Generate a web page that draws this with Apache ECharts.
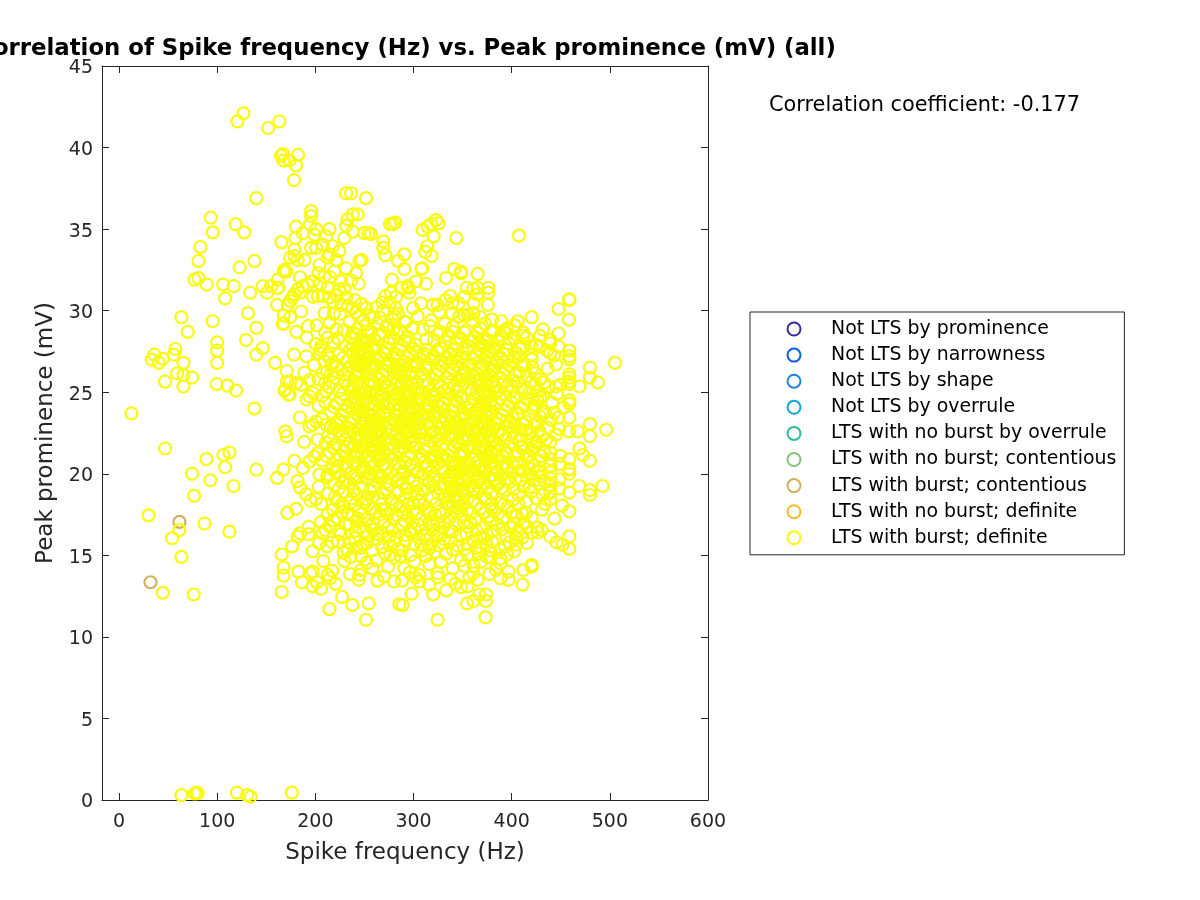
<!DOCTYPE html>
<html><head><meta charset="utf-8">
<style>html,body{margin:0;padding:0;background:#fff}#c{width:1200px;height:900px}</style>
<script src="https://cdn.jsdelivr.net/npm/echarts@6/dist/echarts.min.js"></script>
</head><body><div id="c"></div>
<script>
const xTicks=[0,100,200,300,400,500,600];
const seriesNames=["Not LTS by prominence","Not LTS by narrowness","Not LTS by shape","Not LTS by overrule","LTS with no burst by overrule","LTS with no burst; contentious","LTS with burst; contentious","LTS with no burst; definite","LTS with burst; definite"];
const seriesColors=["#3e2a9b","#0a5fe0","#1e84e0","#06a9ca","#2eb89e","#87c077","#d0b25a","#fcbb2e","#f9fb0e"];
const burstContentious=[[32,13.35],[61.5,17.05]];
const outlineTop=[[120.6,41.6],[126.7,42.1],[152,41.2],[163.3,41.6],[165,39.5],[167,39.6],[167.4,39.2],[173.5,39.2],[182.3,39.55],[180.3,38.9],[178.3,38],[139.9,36.9],[93.4,35.7],[95.4,34.8],[118.8,35.3],[127.4,34.8],[82.9,33.9],[80.9,33.05],[122.9,32.65],[137.9,33.05],[165.4,34.2],[76.8,31.9],[80.9,32],[89.3,31.6],[106,31.6],[116.8,31.5],[108,30.75],[133.5,31.1],[146.3,31.5],[150.8,31.1],[154.9,31.5],[161.6,31.4],[161.6,31.9],[167.7,32.4],[170,32.4],[63.5,29.6],[95.4,29.35],[70,28.7],[131.4,29.85],[139.9,28.95],[129.4,28.2],[99.9,28.05],[99.9,27.55],[99.9,26.8],[99.5,25.5],[110.4,25.4],[119.2,25.1],[57.4,27.65],[55.7,27.3],[36,27.3],[33.3,27],[40.5,26.8],[44.5,27.05],[65.6,26.8],[59.1,26.15],[65.6,26.05],[74.4,25.9],[46.9,25.65],[65.6,25.35],[12.6,23.7],[137.9,24],[46.9,21.55],[89,20.9],[106.3,21.15],[112.4,21.3],[108,20.4],[139.9,20.25],[74.4,20],[93,19.6],[116.5,19.25],[76.5,18.65],[167.4,20.25],[161,19.75],[139.9,27.3],[146.3,27.7],[159,26.8],[166.7,29.2],[170.8,26.3],[171.2,25.65],[168.4,25.1],[172.5,24.85],[169.4,22.6],[170.8,22.3],[87,16.95],[112.4,16.45],[61.5,16.55],[54,16.05],[63.5,14.9],[76,12.6],[44.5,12.7],[30,17.45]];
const nearZero=[[63.5,0.3],[77,0.4],[79,0.45],[80,0.42],[120,0.45],[130.5,0.3],[134,0.2],[176,0.45]];
const outlineBottom=[[184.4,19.15],[190.5,18.75],[195.2,18.35],[205.8,18.15],[171.5,17.6],[180.3,17.85],[205.8,17.05],[212.5,17.5],[193.2,16.75],[192.9,16.3],[210.2,16.55],[184.4,16.35],[182,16.15],[176.3,15.55],[165.7,15.05],[211.9,15.55],[223.1,15.85],[167.7,14.25],[167.7,13.75],[165.7,12.75],[182.7,14],[186.4,13.35],[197.3,14],[194.9,13.9],[201.7,13.35],[197.3,13.1],[208.1,14.65],[217,14.05],[212.5,13.8],[215,13.6],[229.5,14.65],[228.8,15.15],[235.3,13.85],[227.2,12.45],[237.7,11.95],[214.3,11.7],[251.6,11.05],[244.1,13.5],[244.8,13.8],[246.5,14.1],[254.3,12.05],[235.6,15.75],[241.4,15.45],[246.5,15.45],[246.5,14.95],[324.5,11.05],[373.4,11.2],[320.1,12.6],[333.4,12.85],[298.1,12.65],[288.9,11.95],[285.5,12],[354.5,12.05],[360.9,12.2],[373.8,12.2],[367,12.6],[373.8,12.6],[348.4,13.05],[355.1,13.1],[337.5,13.55],[356.8,13.65],[365.3,13.5],[360.9,13.9],[324.5,13.65],[324.5,13.9],[305.9,13.4],[305.9,13.8],[301.8,13.65],[288.3,13.45],[411.1,13.2],[396.8,13.5],[388.4,13.6],[396.8,14],[411.8,14.1],[420.3,14.3],[420.3,14.4],[377.2,13.85],[384,14.1],[388.4,14.5],[388.4,14.8],[388.4,15.35],[368.7,14.6],[348.4,14.7],[316,14.45],[300.8,14.6],[290.6,14.2],[333,15.1],[316,15.45],[338.2,15.85],[305.9,16.05],[458.7,15.4],[451.8,15.65],[445.7,15.8],[439.3,16.15],[458.7,16.15],[426.4,16.4],[420.3,16.4],[404.4,16.05],[458.7,17.7],[420.3,17.3],[414.6,17.6],[458.7,18.85],[439.3,18.45],[439.3,18.85],[468.8,19.25],[479.7,19],[479.7,18.7],[492.6,19.25],[448.5,19.1],[448.5,19.65],[458.7,20.3]];
const outlineRight=[[407.4,34.6],[343.6,34.45],[322.9,35.55],[325.3,35.35],[317.8,35.3],[314.4,35.15],[309.3,34.95],[320.5,34.55],[290.6,33.45],[314,33.95],[312,33.6],[318.4,33.35],[308.7,32.6],[308,32.55],[290.6,32.55],[341.5,32.55],[348.4,32.3],[348.4,32.4],[365.3,32.25],[333.1,32],[302.5,31.8],[354.1,31.4],[360.9,31.35],[365.3,31.4],[365.3,31],[376.2,31.4],[376.2,31.1],[295.7,31.1],[294,31.5],[307.6,30.45],[324.5,30.35],[337.5,30.9],[339.2,30.45],[345.9,30.45],[339.2,29.85],[346.6,29.65],[355.1,29.75],[360.9,29.85],[368,29.6],[379.9,29.45],[290.9,29.3],[458.7,30.7],[458.7,30.65],[447.8,30.1],[458.4,29.45],[420.3,29.6],[403,29.1],[394.8,28.6],[411.8,28.65],[411.8,28.45],[428.8,28.45],[447.8,28.6],[439.3,28.2],[439.3,28],[420.3,27.8],[428.8,27.8],[447.8,27.8],[458.7,27.55],[439.3,27.4],[420.3,27.3],[420.3,27],[458.7,27.2],[458.7,27],[505.2,26.8],[479.7,26.5],[479.7,25.9],[487.8,25.6],[469.1,25.35],[458.7,26.1],[458.7,25.9],[458.7,25.5],[458.7,25.65],[445,26.7],[436.6,26.45],[445,25.35],[458.7,24.5],[458.7,24.3],[458.7,23.45],[447.8,23.45],[458.4,22.6],[467.1,22.6],[479.7,23.05],[479.7,22.3],[496.3,22.7],[439.3,21.95],[469.1,21.55],[472.6,21.15],[479.7,20.8],[458.7,20.9],[458.7,20.25],[458.7,20],[439.3,21.3],[439.3,20.9],[439.3,20.5],[439.3,20.1],[439.3,19.7],[439.3,19.3],[439.3,18.9],[449,20.6],[449,21.1]];
const outlineUpper=[[180.3,35.15],[179.6,34.45],[195.6,36.1],[195.6,35.8],[194.6,35.3],[187.1,34.75],[200.7,35],[214.3,35],[210.9,34.55],[199,34.65],[178.6,33.75],[178.6,33.35],[182,33.1],[174.2,33.25],[188.8,33.1],[195.6,33.85],[200.7,33.85],[207.4,34.05],[217.6,33.95],[224.4,33.65],[214.3,33.45],[229.5,34.45],[232.9,35.6],[238,35.9],[243.1,35.9],[231.3,35.2],[238,34.85],[249.9,34.75],[254,34.75],[231.3,37.2],[236.4,37.2],[251.6,36.9],[204.1,32.8],[203.1,32.3],[168.4,32.5],[170.2,32.4],[184.4,32.05],[197.3,31.8],[192.2,31.6],[187.1,31.5],[182,31.3],[162.3,31.4],[212.5,33.25],[221.1,33.1],[231.3,32.6],[241.4,32.3],[244.8,33.05],[247,33.1],[244.1,31.65],[226.2,31.8],[219.3,32.4],[209.2,32.1],[202.4,30.9],[207.4,30.9],[214.3,30.8],[231.3,30.8],[212.5,31.4],[224.4,31.3],[178.6,31],[176.9,30.8],[174.2,30.6],[171.8,30.35],[184.4,31.1],[161,30.35],[185.4,29.95],[167.7,29.7],[174.2,29.6],[167.7,29.2],[180.6,28.7],[178.3,27.3],[190.8,27.2],[201.3,29.1],[214.3,29.25],[209.9,28.65],[218.6,28.05],[218.6,29.8],[205.8,27.8],[204.1,27.4],[214.3,27.1],[276,35.3],[281.5,35.4],[279,35.3],[256.7,34.7],[269.2,34.25],[269.2,33.85],[271.3,33.4],[284.2,33.05],[278.1,31.9],[271.3,30.9],[277.1,31.1],[282.2,30.85],[288.3,31.4],[295,31.4]];
const outlineLeft=[[205,27.6],[174.2,25.65],[180.3,25.55],[169.4,25.15],[173.8,24.85],[185.4,25.45],[188.8,26.2],[193.9,25.75],[193.9,24.75],[191.1,24.55],[197.3,24.95],[207.4,26.2],[209.2,26.9],[212.5,27.3],[197.3,23],[193.9,22.9],[200.7,23.2],[202.4,22.1],[210.9,21.9],[210.9,23],[178.6,20.8],[193.9,20.75],[199,21.05],[202.4,21.25],[204.1,19.95],[203.4,19.2],[212.5,19.95]];
const coreRows=[
[258,15.3],[271,15.1],[284,15.4],[297,15.0],[309,15.3],[322,15.2],[352,15.4],[366,15.1],[378,15.3],
[217,15.8],[249,15.7],[263,16.0],[276,15.6],[292,15.9],[318,15.7],[331,16.0],[345,15.6],[361,15.9],[374,15.7],[398,15.8],[411,16.1],
[226,16.3],[241,16.5],[254,16.2],[268,16.4],[283,16.1],[296,16.5],[312,16.2],[327,16.4],[354,16.3],[368,16.1],[381,16.5],[394,16.2],[407,16.5],
[214,16.8],[231,16.9],[245,16.7],[259,17.0],[274,16.7],[288,16.9],[301,16.6],[316,17.0],[330,16.7],[343,16.9],[358,17.0],[371,16.7],[385,16.9],[399,16.7],[412,17.0],[426,16.7],
[222,17.3],[238,17.4],[252,17.2],[266,17.5],[280,17.2],[294,17.4],[307,17.2],[322,17.5],[337,17.3],[349,17.5],[363,17.2],[377,17.4],[391,17.3],[405,17.4],
[218,17.8],[229,18.0],[244,17.7],[258,17.9],[271,17.8],[286,18.0],[299,17.7],[313,17.9],[326,17.7],[340,18.0],[355,17.8],[369,17.9],[382,17.7],[396,18.0],[431,17.8],
[223,18.3],[237,18.5],[250,18.2],[265,18.4],[278,18.2],[291,18.5],[305,18.3],[319,18.5],[333,18.2],[346,18.4],[360,18.3],[374,18.5],[388,18.2],[401,18.4],[415,18.3],[425,18.5],
[213,18.8],[229,18.9],[243,18.7],[256,19.0],[270,18.8],[284,18.9],[297,18.7],[311,19.0],[325,18.8],[338,19.0],[352,18.7],[366,18.9],[379,18.8],[393,19.0],[407,18.7],[420,18.9],[432,18.7],
[219,19.3],[235,19.4],[248,19.2],[262,19.5],[276,19.3],[289,19.4],[303,19.2],[316,19.5],[330,19.3],[344,19.5],[357,19.2],[371,19.4],[385,19.3],[398,19.5],[412,19.2],[428,19.4],
[212,19.8],[226,19.9],[241,19.7],[254,20.0],[268,19.8],[281,19.9],[295,19.7],[309,20.0],[322,19.8],[336,19.9],[349,19.7],[363,20.0],[377,19.8],[390,19.9],[404,19.7],[418,20.0],[430,19.8],
[217,20.3],[232,20.4],[246,20.2],[259,20.5],[273,20.3],[287,20.4],[300,20.2],[314,20.5],[328,20.3],[341,20.4],[355,20.2],[368,20.5],[382,20.3],[396,20.4],[409,20.2],[423,20.5],
[207,20.8],[222,20.9],[238,20.7],[251,21.0],[265,20.8],[279,20.9],[292,20.7],[306,21.0],[319,20.8],[333,20.9],[347,20.7],[360,21.0],[374,20.8],[387,20.9],[401,20.7],[415,21.0],[428,20.8],
[215,21.3],[229,21.4],[243,21.2],[257,21.5],[270,21.3],[284,21.4],[298,21.2],[311,21.5],[325,21.3],[339,21.4],[352,21.2],[366,21.5],[380,21.3],[393,21.4],[407,21.2],[420,21.5],[433,21.3],
[221,21.8],[235,21.9],[249,21.7],[262,22.0],[276,21.8],[290,21.9],[303,21.7],[317,22.0],[330,21.8],[344,21.9],[358,21.7],[371,22.0],[385,21.8],[399,21.9],[412,21.7],[425,22.0],
[213,22.3],[227,22.4],[241,22.2],[254,22.5],[268,22.3],[282,22.4],[295,22.2],[309,22.5],[323,22.3],[336,22.4],[350,22.2],[363,22.5],[377,22.3],[391,22.4],[404,22.2],[418,22.5],[431,22.3],[445,22.4],
[219,22.8],[232,22.9],[246,22.7],[260,23.0],[273,22.8],[287,22.9],[301,22.7],[314,23.0],[328,22.8],[342,22.9],[355,22.7],[369,23.0],[382,22.8],[396,22.9],[410,22.7],[423,23.0],[437,22.8],
[224,23.3],[238,23.4],[252,23.2],[265,23.5],[279,23.3],[292,23.4],[306,23.2],[320,23.5],[333,23.3],[347,23.4],[361,23.2],[374,23.5],[388,23.3],[401,23.4],[415,23.2],[429,23.5],[440,23.3],
[216,23.8],[230,23.9],[243,23.7],[257,24.0],[271,23.8],[284,23.9],[298,23.7],[312,24.0],[325,23.8],[339,23.9],[352,23.7],[366,24.0],[380,23.8],[393,23.9],[407,23.7],[421,24.0],[434,23.8],
[222,24.3],[236,24.4],[249,24.2],[263,24.5],[276,24.3],[290,24.4],[304,24.2],[317,24.5],[331,24.3],[345,24.4],[358,24.2],[372,24.5],[385,24.3],[399,24.4],[413,24.2],[426,24.5],
[207,24.8],[228,24.9],[241,24.7],[255,25.0],[268,24.8],[282,24.9],[296,24.7],[309,25.0],[323,24.8],[336,24.9],[350,24.7],[364,25.0],[377,24.8],[391,24.9],[405,24.7],[418,25.0],[432,24.8],[446,24.9],
[214,25.3],[233,25.4],[247,25.2],[260,25.5],[274,25.3],[288,25.4],[301,25.2],[315,25.5],[328,25.3],[342,25.4],[356,25.2],[369,25.5],[383,25.3],[396,25.4],[410,25.2],[424,25.5],[437,25.3],
[203,25.8],[220,25.9],[239,25.7],[252,26.0],[266,25.8],[280,25.9],[293,25.7],[307,26.0],[320,25.8],[334,25.9],[348,25.7],[361,26.0],[375,25.8],[388,25.9],[402,25.7],[416,26.0],[429,25.8],
[212,26.3],[226,26.4],[244,26.2],[258,26.5],[272,26.3],[285,26.4],[299,26.2],[312,26.5],[326,26.3],[340,26.4],[353,26.2],[367,26.5],[380,26.3],[394,26.4],[408,26.2],[421,26.5],
[218,26.8],[232,26.9],[249,26.7],[263,27.0],[277,26.8],[291,26.9],[304,26.7],[318,27.0],[332,26.8],[345,26.9],[359,26.7],[372,27.0],[386,26.8],[400,26.9],[413,26.7],
[224,27.3],[238,27.4],[255,27.2],[269,27.5],[283,27.3],[296,27.4],[310,27.2],[324,27.5],[337,27.3],[351,27.4],[364,27.2],[378,27.5],[392,27.3],[405,27.4],
[231,27.8],[244,27.9],[261,27.7],[275,28.0],[288,27.8],[302,27.9],[329,27.7],[343,28.0],[356,27.8],[370,27.9],[384,27.7],[397,28.0],[411,27.8],[425,27.9],
[223,28.3],[237,28.4],[250,28.2],[266,28.5],[280,28.3],[294,28.4],[321,28.2],[335,28.5],[348,28.3],[362,28.4],[376,28.2],[389,28.5],[403,28.3],
[229,28.8],[243,28.9],[257,28.7],[272,29.0],[286,28.8],[299,28.9],[327,28.7],[340,29.0],[354,28.8],[368,28.9],[381,28.7],[395,28.9],
[235,29.3],[249,29.4],[263,29.2],[278,29.5],[292,29.3],[318,29.4],[332,29.2],[360,29.4],[373,29.2],
[225,29.8],[241,29.9],[255,29.7],[269,30.0],[284,29.8],[326,29.9],[352,29.7],
[233,30.3],[247,30.4],[262,30.2],[276,30.5]
];
const coreBetween=[
[224,19.1],[231,19.65],[239,18.95],[252,19.7],[259,19.15],[266,19.7],[273,19.05],[283,19.65],[292,19.15],[300,19.6],[308,19.05],[320,19.65],[327,19.1],[335,19.65],[341,19.15],[352,19.6],[361,19.05],[368,19.7],[375,19.1],[383,19.65],[389,19.1],[396,19.7],[402,19.05],[410,19.65],[418,19.2],[424,19.6],
[220,20.1],[229,20.6],[236,20.05],[243,20.65],[249,20.1],[256,20.7],[263,20.05],[270,20.6],[277,20.1],[284,20.65],[290,20.15],[297,20.55],[304,20.1],[311,20.7],[318,20.1],[325,20.6],[331,20.15],[338,20.65],[344,20.15],[351,20.55],[358,20.1],[365,20.7],[372,20.15],[379,20.65],[385,20.15],[392,20.6],[399,20.1],[406,20.65],[412,20.15],[420,20.7],[426,20.15],
[211,21.1],[218,21.6],[225,21.1],[232,21.65],[240,21.05],[247,21.6],[254,21.1],[261,21.7],[267,21.1],[274,21.55],[281,21.15],[288,21.65],[295,21.05],[301,21.6],[308,21.15],[315,21.7],[322,21.05],[328,21.6],[335,21.15],[342,21.65],[349,21.1],[356,21.55],[363,21.15],[369,21.7],[376,21.1],[383,21.6],[390,21.15],[397,21.65],[403,21.1],[410,21.6],[417,21.15],[424,21.65],[430,21.1],
[216,22.1],[224,22.6],[230,22.1],[238,22.6],[244,22.05],[251,22.65],[258,22.15],[265,22.6],[271,22.1],[278,22.65],[285,22.15],[292,22.55],[299,22.05],[306,22.7],[312,22.15],[320,22.6],[326,22.1],[333,22.65],[340,22.15],[346,22.55],[353,22.05],[360,22.65],[366,22.15],[373,22.6],[380,22.1],[387,22.65],[394,22.15],[401,22.55],[408,22.05],[415,22.65],[421,22.15],[428,22.6],[435,22.1],
[221,23.1],[228,23.6],[235,23.1],[242,23.65],[249,23.05],[255,23.6],[262,23.15],[269,23.7],[276,23.1],[283,23.55],[289,23.15],[296,23.65],[303,23.05],[309,23.6],[317,23.15],[323,23.7],[330,23.1],[337,23.55],[344,23.15],[350,23.65],[358,23.05],[364,23.6],[371,23.15],[378,23.7],[385,23.05],[391,23.6],[398,23.15],[405,23.65],[412,23.05],[418,23.6],[426,23.15],[432,23.65],
[219,24.1],[226,24.6],[233,24.1],[239,24.65],[246,24.05],[252,24.6],[260,24.15],[266,24.7],[273,24.1],[279,24.6],[287,24.15],[293,24.65],[301,24.05],[306,24.6],[314,24.15],[320,24.7],[328,24.1],[334,24.6],[341,24.15],[348,24.65],[355,24.05],[361,24.6],[368,24.15],[375,24.7],[382,24.1],[388,24.6],[396,24.15],[402,24.65],[410,24.05],[416,24.6],[423,24.15],[429,24.65],
[211,25.05],[218,25.6],[224,25.1],[230,25.65],[237,25.05],[244,25.55],[250,25.05],[257,25.65],[263,25.1],[270,25.6],[277,25.1],[284,25.65],[291,25.05],[298,25.55],[304,25.1],[311,25.7],[318,25.05],[325,25.6],[331,25.1],[338,25.65],[345,25.05],[352,25.55],[359,25.1],[365,25.7],[372,25.05],[380,25.6],[386,25.1],[393,25.65],[399,25.05],[406,25.6],[413,25.1],[420,25.65],[427,25.05],[433,25.6],
[216,26.1],[222,26.6],[229,26.1],[236,26.6],[241,26.05],[247,26.6],[255,26.15],[261,26.7],[268,26.1],[275,26.6],[282,26.15],[289,26.65],[296,26.05],[302,26.6],[309,26.15],[315,26.7],[323,26.1],[329,26.6],[337,26.15],[343,26.65],[350,26.05],[356,26.6],[364,26.15],[370,26.7],[377,26.1],[383,26.6],[391,26.15],[397,26.65],[404,26.05],[411,26.6],
[228,27.1],[235,27.6],[241,27.1],[248,27.65],[252,27.05],[258,27.6],[266,27.15],[272,27.7],[280,27.1],[286,27.6],[293,27.15],[300,27.65],[307,27.05],[313,27.6],[321,27.15],[327,27.7],[334,27.1],[340,27.6],[348,27.15],[354,27.65],[361,27.05],[367,27.6],[375,27.15],[381,27.7],[389,27.1],[395,27.6],[402,27.15],[408,27.65],
[227,18.15],[233,17.6],[240,18.1],[247,17.55],[254,18.1],[261,17.6],[268,18.15],[274,17.55],[282,18.1],[289,17.6],[295,18.15],[303,17.55],[310,18.1],[316,17.6],[323,18.15],[330,17.55],[337,18.1],[344,17.6],[351,18.15],[358,17.55],[365,18.1],[372,17.6],[379,18.15],[386,17.55],[392,18.1],[400,17.6],[407,18.15],[411,17.55],
[235,16.9],[242,17.1],[249,16.45],[256,16.8],[263,16.3],[270,17.05],[278,16.55],[291,17.1],[298,16.35],[305,16.85],[319,16.55],[324,16.95],[336,16.6],[348,16.2],[351,17.05],[364,16.55],[375,16.25],[378,17.05],[390,16.6],[402,16.95],[416,16.75],
[253,15.75],[268,15.5],[280,15.8],[288,15.3],[301,15.7],[313,15.95],[326,15.6],[340,15.35],[355,15.7],[368,15.5],[380,15.85],[393,15.55],[405,15.65],[236,14.9],[262,14.7],[274,14.3],[280,14.85],[258,14.2],[270,13.7],[280,13.4],[316,13.2],[328,14.6],[340,14.2],[352,14.35],[375,14.9],
[238,28.65],[246,28.15],[253,28.75],[260,28.25],[269,28.65],[276,28.3],[283,28.6],[291,28.15],[325,28.55],[332,28.1],[340,28.7],[345,28.3],[352,28.65],[358,28.15],[365,28.65],[372,28.3],[379,28.7],[386,28.2],[392,28.75],[399,28.25],[244,29.65],[252,29.15],[258,29.6],[266,29.55],[274,29.15],[281,29.65],[238,30.15],[252,30.15],[268,30.5],[282,30.15]
];
const coreBlobs=[
[245,26.6],[248,27.2],[251,26.8],[254,27.4],[243,27.5],[240,26.9],[247,28.0],[252,28.1],[256,26.4],[259,27.7],[238,27.9],[243,26.3],
[258,22.0],[261,22.6],[264,21.9],[267,22.4],[255,22.9],[259,23.2],[263,23.0],[256,21.6],[261,21.5],[265,21.3],[268,23.1],[252,22.2],
[370,22.0],[373,21.7],[376,22.3],[379,21.9],[368,21.4],[372,22.9],[377,22.6],[380,21.2],[374,20.9],[369,23.5],[366,22.8],[364,23.9],[369,24.4],[375,23.9],
[296,23.1],[299,23.9],[302,23.3],[305,24.0],[293,23.8],[297,24.4],[302,22.8],[306,22.5],[294,22.5],[299,22.3],
[340,19.0],[343,18.6],[346,19.5],[349,18.9],[337,19.4],[342,20.0],[347,20.1],[336,18.6],[350,20.3],[345,17.9],[341,17.7],
[371,25.0],[374,25.5],[377,25.0],[369,25.8],[374,26.0],[378,24.4],[372,24.5],[380,25.6],
[282,25.5],[285,26.1],[288,25.6],[291,26.2],[284,24.7],[288,24.6],[280,26.4],[284,26.7],[292,24.9],
[242,24.3],[245,25.0],[248,24.5],[251,25.1],[240,25.2],[244,23.9],[249,23.6],[238,24.0],
[332,23.5],[336,23.0],[340,22.5],[344,23.2],[348,22.7],[352,23.4],[356,22.3],[334,24.6],[342,24.5],[328,22.5]];
const coreExtra=[[332,18.6],[338,19.6],[343,20.6],[347,21.2],[351,19.1],[356,22.1],[359,20.1],[362,21.6],[365,19.5],[369,22.4],[372,20.4],[375,21.1],[378,22.7],[381,19.9],[384,21.4],[336,22.2],[341,21.7],[346,22.9],[351,23.6],[358,23.9],[364,22.9],[370,24.1],[376,23.6],[355,20.7],[361,18.9],[348,19.4],[340,20.1],[367,20.2],[373,18.4],[378,20.6],
[246,21.7],[252,22.7],[258,23.6],[264,21.1],[270,24.3],[275,22.1],[280,20.6],[285,22.9],[290,21.6],[296,23.3],[250,24.6],[256,25.7],[262,26.6],[268,25.2],[274,26.6],[280,24.2],[286,27.6],[292,25.6],[298,26.6],[304,24.6],[242,26.7],[248,27.6],[254,28.1],[310,22.1],[316,23.6],[322,21.1],[328,24.1],[305,20.1],[300,18.2],[293,19.1]];
const coreLoose=[[233.5,26.15],[241.7,28.55],[237.2,25.3],[249.6,23.35],[256.4,24.35],[263.8,25.85],[271.9,27.35],[279.2,28.85],[287.6,23.35],[295.3,28.05],[303.7,25.55],[311.2,27.35],[318.6,24.85],[327.4,26.95],[335.7,25.2],[343.2,27.2],[351.5,26.35],[359.8,28.15],[367.3,25.35],[375.6,27.45],[383.9,24.95],[391.4,26.85],[399.7,25.35],[407.2,27.15],[415.5,24.55],[423.8,26.15],[431.3,23.85],[441.2,24.35],[409.6,22.35],[417.3,20.35],[425.7,21.85],[433.2,19.55],[402.6,23.05],[394.9,21.25],[387.4,19.45],[379.7,17.85],[371.2,16.05],[363.6,15.45],[355.9,16.75],[347.3,18.05],[339.7,16.45],[331.2,17.05],[323.8,16.15],[315.5,17.75],[307.9,15.65],[299.3,17.05],[291.7,16.25],[283.2,17.45],[275.6,16.15],[267.9,17.85],[259.3,16.55],[251.6,18.45],[243.2,17.25],[235.7,18.25],[227.4,19.45],[219.8,18.55],[222.3,20.45],[230.7,21.05],[238.4,19.85],[246.9,21.25],[255.2,20.05],[263.6,20.95],[271.3,19.45],[279.7,21.65],[288.2,19.95],[296.6,21.85],[304.3,18.75],[312.7,20.35],[320.4,19.25],[328.9,20.85],
[210.3,24.35],[215.7,22.85],[206.6,23.35],[203.4,24.15],[217.2,26.65],[209.8,25.55],[212.6,28.35],[221.4,28.85],[226.3,30.35],[217.8,30.55],[209.4,29.85],[229.6,31.35],[221.7,30.95],[236.4,31.85],[240.2,30.65],[214.8,32.05],[204.9,31.65],[197.6,30.85],[192.4,29.05],[198.7,26.65],[191.3,28.35],[200.4,27.95],[184.2,23.45],[188.6,21.95],[181.7,19.55],[187.3,20.35],[200.6,18.45],[207.3,16.35],[203.7,15.75],[197.2,15.25],[205.9,12.95],[220.6,13.25],[224.3,16.45],[218.4,17.15],[226.7,17.65],[240.3,16.05],[232.8,15.35],[252.4,14.55],[263.2,13.45],[276.4,15.05],[286.7,14.95],[296.3,13.95],[312.4,14.95],[342.6,13.25],[361.4,14.35],[378.3,14.85],[395.2,15.05],[402.7,15.25],[415.4,15.75],[430.6,16.55],[433.8,18.15],[443.6,17.25],[451.4,18.05],[448.3,22.75],[452.7,24.05],[443.4,23.75],[449.6,25.45],[443.2,27.25],[436.4,27.55],[431.7,28.85],[415.3,28.35],[406.2,29.35],[389.4,29.35],[375.7,30.35],[361.2,30.45],[351.6,30.85],[332.4,30.65],[319.8,30.35],[312.7,31.65],[299.4,30.15],[309.6,28.85],[304.3,29.65],[316.9,29.05],[313.2,28.25],
[367.8,19.15],[372.6,21.35],[359.4,22.55],[354.2,19.85],[349.7,22.05],[345.2,19.05],[391.3,20.35],[386.2,22.45],[394.7,23.25],[361.6,24.65],[356.3,25.85],[366.8,26.85],[345.6,25.85],[338.4,26.85],[331.8,23.85],[324.3,22.05],[317.6,21.05],[310.4,23.35],[303.8,27.45],[295.6,24.85],[288.3,22.05],[281.7,23.15],[274.2,23.65],[267.6,24.85],[260.3,24.25],[253.7,25.45],[246.2,22.35],[239.8,21.75],[232.4,22.55],[225.7,23.15],[372.2,27.85],[366.7,28.05],[381.5,26.35],[250.2,20.35],[257.6,18.55],[264.8,19.85],[277.3,18.45],[284.4,19.55],[319.7,16.85],[355.3,15.05]];
const ltsBurstDefinite=[].concat(outlineTop,nearZero,outlineBottom,outlineRight,outlineUpper,outlineLeft,coreRows,coreBetween,coreBlobs,coreExtra,coreLoose);
const seriesData=[[],[],[],[],[],[],burstContentious,[],ltsBurstDefinite];

const ink='#262626', font='"DejaVu Sans"';
const chart=echarts.init(document.getElementById('c'),null,{renderer:'canvas'});
const sideX={type:'value',min:-17.4,max:600,axisLine:{onZero:false,lineStyle:{color:ink,width:1}},splitLine:{show:false}};
const sideY={type:'value',min:0,max:45,interval:5,axisLine:{onZero:false,lineStyle:{color:ink,width:1}},splitLine:{show:false},axisTick:{inside:true,length:7,lineStyle:{color:ink}}};
chart.setOption({
 animation:false,backgroundColor:'#fff',
 title:{text:'Correlation of Spike frequency (Hz) vs. Peak prominence (mV) (all)',left:401,top:33,textAlign:'center',textStyle:{fontFamily:font,fontSize:22.8,fontWeight:'bold',color:'#000'}},
 grid:{left:102,top:66,width:606,height:734,containLabel:false},
 xAxis:[
  Object.assign({},sideX,{position:'bottom',name:'Spike frequency (Hz)',nameLocation:'middle',nameGap:42,nameTextStyle:{fontFamily:font,fontSize:23,color:ink},axisTick:{inside:true,length:7,customValues:xTicks,lineStyle:{color:ink}},axisLabel:{customValues:xTicks,margin:13,fontFamily:font,fontSize:19,color:ink}}),
  Object.assign({},sideX,{position:'top',axisTick:{inside:true,length:7,customValues:xTicks,lineStyle:{color:ink}},axisLabel:{show:false}})
 ],
 yAxis:[
  Object.assign({},sideY,{position:'left',name:'Peak prominence (mV)',nameLocation:'middle',nameGap:40,nameTextStyle:{fontFamily:font,fontSize:23,color:ink},axisLabel:{margin:9,verticalAlign:'top',lineHeight:5,fontFamily:font,fontSize:19,color:ink}}),
  Object.assign({},sideY,{position:'right',axisLabel:{show:false}})
 ],
 legend:{orient:'vertical',left:750,top:312,padding:[7,8,7,36.5],itemWidth:64,itemHeight:13,itemGap:6.1,selectedMode:false,borderColor:ink,borderWidth:1,backgroundColor:'#fff',
  textStyle:{fontFamily:font,fontSize:18.9,lineHeight:17,padding:[3,0,0,0],color:'#000'},
  data:seriesNames.map((n,i)=>({name:n,icon:'circle',itemStyle:{color:'rgba(0,0,0,0)',borderColor:seriesColors[i],borderWidth:2}}))},
 graphic:[{type:'text',left:769,top:95,style:{text:'Correlation coefficient: -0.177',font:'20.85px "DejaVu Sans"',fill:'#000'}}],
 series:seriesNames.map((n,i)=>({name:n,type:'scatter',data:seriesData[i],symbol:'circle',symbolSize:12,xAxisIndex:0,yAxisIndex:0,clip:false,itemStyle:{color:'rgba(0,0,0,0)',borderColor:seriesColors[i],borderWidth:2.2,opacity:1}}))
});
</script></body></html>
